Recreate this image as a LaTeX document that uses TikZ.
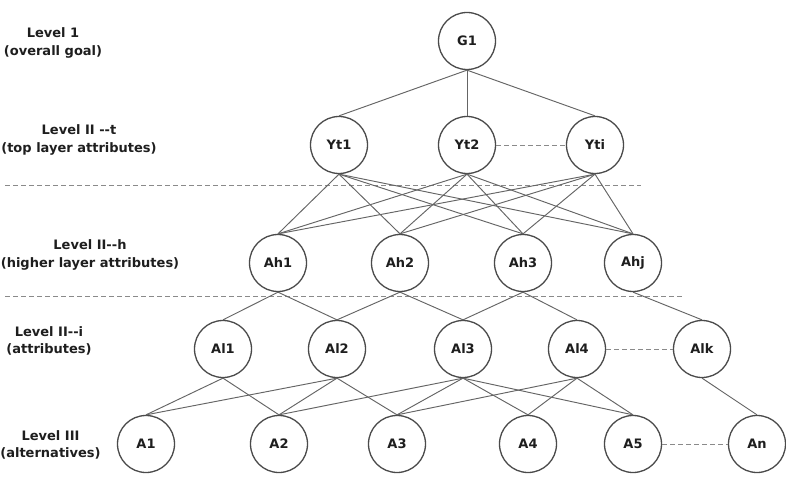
\documentclass[tikz,border=0pt]{standalone}
\usepackage{fontspec}
\setmainfont{DejaVu Sans}
\definecolor{ringgray}{HTML}{4A4A4A}
\definecolor{linegray}{HTML}{656565}
\definecolor{dashgray}{HTML}{8A8A8A}
\definecolor{txt}{HTML}{1E1E1E}
\begin{document}
\begin{tikzpicture}[x=1pt,y=-1pt,
  nd/.style={circle,draw=ringgray,fill=white,line width=1.3pt,minimum size=57pt,inner sep=0pt,font=\fontsize{13}{15}\selectfont\bfseries,text=txt},
  lvl/.style={align=center,font=\fontsize{13}{17.5}\selectfont\bfseries,text=txt},
  edge/.style={draw=linegray,line width=0.95pt},
  sepline/.style={draw=dashgray,line width=0.9pt,dash pattern=on 5pt off 3pt},
]
\useasboundingbox (0,0) rectangle (786,478);
% separators
\coordinate (s1a) at (5,185);
\coordinate (s1b) at (641,185);
\coordinate (s2a) at (5,296);
\coordinate (s2b) at (683,296);
\draw[sepline] (s1a) -- (s1b);
\draw[sepline] (s2a) -- (s2b);
% level labels
\node[lvl] (L1) at (53,43) {Level 1\\(overall goal)};
\node[lvl] (L2) at (79,140) {Level II -{}-t\\(top layer attributes)};
\node[lvl] (L3) at (90,255) {Level II-{}-h\\(higher layer attributes)};
\node[lvl] (L4) at (49,341) {Level II-{}-i\\(attributes)};
\node[lvl] (L5) at (50.5,445) {Level III\\(alternatives)};
% nodes
\node[nd] (G1) at (467,41) {G1};
\node[nd] (Yt1) at (339,145) {Yt1};
\node[nd] (Yt2) at (467,145) {Yt2};
\node[nd] (Yti) at (595,145) {Yti};
\node[nd] (Ah1) at (278,263) {Ah1};
\node[nd] (Ah2) at (400,263) {Ah2};
\node[nd] (Ah3) at (523,263) {Ah3};
\node[nd] (Ahj) at (633,263) {Ahj};
\node[nd] (Al1) at (223,349) {Al1};
\node[nd] (Al2) at (337,349) {Al2};
\node[nd] (Al3) at (463,349) {Al3};
\node[nd] (Al4) at (577,349) {Al4};
\node[nd] (Alk) at (702,349) {Alk};
\node[nd] (A1) at (146,444) {A1};
\node[nd] (A2) at (279,444) {A2};
\node[nd] (A3) at (397,444) {A3};
\node[nd] (A4) at (528,444) {A4};
\node[nd] (A5) at (633,444) {A5};
\node[nd] (An) at (757,444) {An};
% edges
\foreach \t in {Yt1,Yt2,Yti} \draw[edge] (G1.south) -- (\t.north);
\foreach \t in {Yt1,Yt2,Yti}
  \foreach \h in {Ah1,Ah2,Ah3,Ahj}
    \draw[edge] (\t.south) -- (\h.north);
\foreach \a/\b in {Ah1/Al1,Ah1/Al2,Ah2/Al2,Ah2/Al3,Ah3/Al3,Ah3/Al4,Ahj/Alk,
  Al1/A1,Al1/A2,Al2/A1,Al2/A2,Al2/A3,Al3/A2,Al3/A3,Al3/A4,Al3/A5,
  Al4/A3,Al4/A4,Al4/A5,Alk/An}
  \draw[edge] (\a.south) -- (\b.north);
% dashed links
\draw[sepline] (Yt2.east) -- (Yti.west);
\draw[sepline] (Al4.east) -- (Alk.west);
\draw[sepline] (A5.east) -- (An.west);
\end{tikzpicture}
\end{document}
